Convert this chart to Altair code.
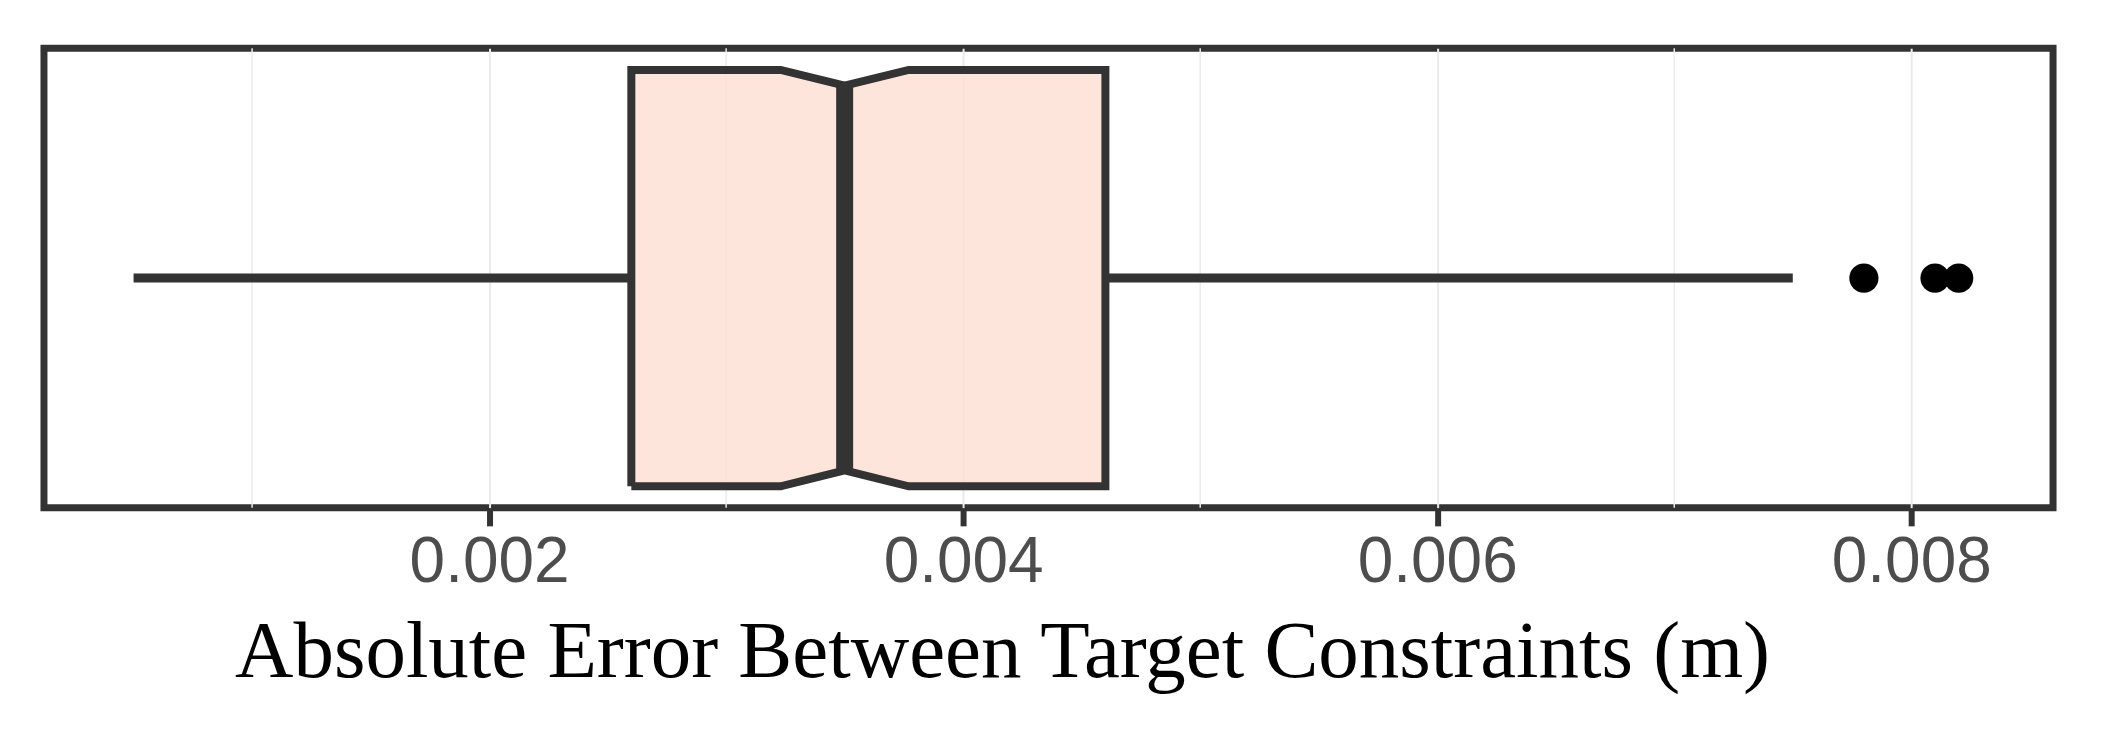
import altair as alt
import pandas as pd

# ---- data ----
Q1 = 0.0026
MEDIAN = 0.0035
Q3 = 0.0046
NOTCH_LO = 0.00323
NOTCH_HI = 0.00377
WHISKER_LO = 0.0005
WHISKER_HI = 0.0075
OUTLIERS = [0.0078, 0.0081, 0.0082]
TICK_VALUES = [0.002, 0.004, 0.006, 0.008]
MINOR_GRID = [0.001, 0.003, 0.005, 0.007]
X_TITLE = "Absolute Error Between Target Constraints (m)"

# ---- styling constants ----
BOX_HALF = 0.906      # half height of box in y-scale units
NOTCH_HALF = 0.837    # half height at the notch
DARK = "#333333"
FILL = "#FEDFD3"
W, H = 2011, 460

xscale = alt.Scale(domain=[0.000122, 0.008598], nice=False, zero=False)
yscale = alt.Scale(domain=[-1, 1], nice=False, zero=False)

xaxis = alt.Axis(
    values=TICK_VALUES, format=".3f", title=X_TITLE,
    domain=False, grid=True, gridColor="#EBEBEB", gridWidth=2,
    ticks=True, tickColor=DARK, tickWidth=6, tickSize=18,
    labelFont="Liberation Sans", labelFontSize=64, labelColor="#4D4D4D",
    labelPadding=5,
    titleFont="Liberation Serif", titleFontSize=81, titleFontWeight="normal",
    titleColor="#000000", titleX=959, titleY=169, titleAlign="center",
    titleBaseline="alphabetic",
)

# minor gridlines
minor = alt.Chart(pd.DataFrame({"v": MINOR_GRID})).mark_rule(
    color="#EBEBEB", strokeWidth=1.5
).encode(x=alt.X("v:Q", scale=xscale, axis=xaxis))

# whiskers
wdf = pd.DataFrame({"a": [WHISKER_LO, Q3], "b": [Q1, WHISKER_HI], "y": [0, 0]})
whiskers = alt.Chart(wdf).mark_rule(color=DARK, strokeWidth=9).encode(
    x=alt.X("a:Q", scale=xscale),
    x2="b:Q",
    y=alt.Y("y:Q", scale=yscale, axis=None),
)

# notched box fill
xs = [Q1, NOTCH_LO, MEDIAN, NOTCH_HI, Q3]
tops = [BOX_HALF, BOX_HALF, NOTCH_HALF, BOX_HALF, BOX_HALF]
adf = pd.DataFrame({"x": xs, "top": tops, "bot": [-t for t in tops]})
box_fill = alt.Chart(adf).mark_area(
    orient="vertical", color=FILL, opacity=0.8, interpolate="linear"
).encode(
    x=alt.X("x:Q", scale=xscale),
    y=alt.Y("top:Q", scale=yscale, axis=None),
    y2="bot:Q",
)

# notched box outline
ox = [Q1, Q1, NOTCH_LO, MEDIAN, NOTCH_HI, Q3, Q3, NOTCH_HI, MEDIAN, NOTCH_LO, Q1]
oy = [-BOX_HALF, BOX_HALF, BOX_HALF, NOTCH_HALF, BOX_HALF, BOX_HALF,
      -BOX_HALF, -BOX_HALF, -NOTCH_HALF, -BOX_HALF, -BOX_HALF]
odf = pd.DataFrame({"x": ox, "y": oy, "o": list(range(len(ox)))})
box_line = alt.Chart(odf).mark_line(
    color=DARK, strokeWidth=8, strokeJoin="miter"
).encode(
    x=alt.X("x:Q", scale=xscale),
    y=alt.Y("y:Q", scale=yscale, axis=None),
    order="o:Q",
)

# median
mdf = pd.DataFrame({"m": [MEDIAN], "lo": [-NOTCH_HALF], "hi": [NOTCH_HALF]})
median = alt.Chart(mdf).mark_rule(color=DARK, strokeWidth=17, strokeCap="butt").encode(
    x=alt.X("m:Q", scale=xscale),
    y=alt.Y("lo:Q", scale=yscale, axis=None),
    y2="hi:Q",
)

# outliers
pdf = pd.DataFrame({"v": OUTLIERS, "y": [0] * len(OUTLIERS)})
points = alt.Chart(pdf).mark_circle(color="#000000", opacity=1, size=855).encode(
    x=alt.X("v:Q", scale=xscale),
    y=alt.Y("y:Q", scale=yscale, axis=None),
)

chart = alt.layer(minor, whiskers, box_fill, box_line, median, points).properties(
    width=W, height=H,
    background="white",
    autosize=alt.AutoSizeParams(type="none"),
    padding={"left": 36, "top": 40, "right": 40, "bottom": 200},
).configure_view(stroke=DARK, strokeWidth=7)

chart.save("out.html", embed_options={"renderer": "svg", "actions": False})
